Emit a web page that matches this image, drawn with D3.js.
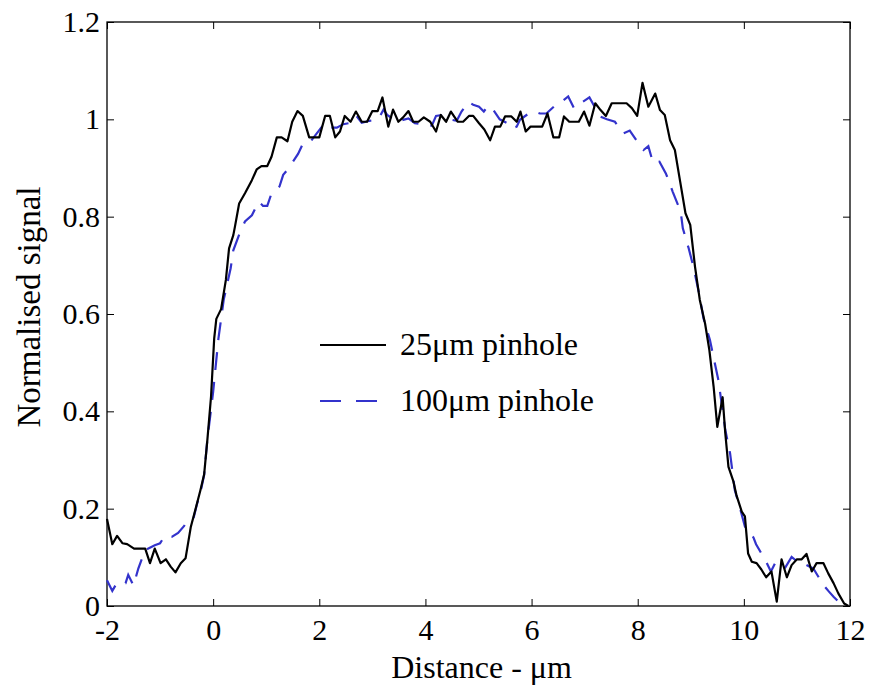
<!DOCTYPE html>
<html>
<head>
<meta charset="utf-8">
<script src="https://cdn.jsdelivr.net/npm/d3@7"></script>
<style>
  body { margin: 0; background: #fff; }
  svg { font-family: "Liberation Serif", "Times New Roman", serif; }
</style>
</head>
<body>
<svg id="svg" width="869" height="687"></svg>
<script>

// 25um pinhole trace
var dist25 = [-2.0, -1.9, -1.81, -1.71, -1.62, -1.49, -1.28, -1.19, -1.10, -0.99, -0.89, -0.80, -0.71, -0.61, -0.52, -0.42, -0.33, -0.24, -0.17, -0.11,
  -0.04, 0.02, 0.06, 0.15, 0.24, 0.30, 0.38, 0.41, 0.49, 0.60, 0.73, 0.82, 0.91, 1.02, 1.10, 1.20, 1.29, 1.40, 1.49, 1.59,
  1.69, 1.81, 2.00, 2.11, 2.20, 2.30, 2.39, 2.48, 2.59, 2.69, 2.80, 2.90, 3.00, 3.10, 3.19, 3.30, 3.39, 3.49, 3.58, 3.68,
  3.77, 3.87, 3.97, 4.09, 4.20, 4.29, 4.39, 4.48, 4.61, 4.71, 4.82, 4.90, 5.01, 5.11, 5.22, 5.31, 5.41, 5.50, 5.62, 5.72,
  5.79, 5.89, 5.98, 6.20, 6.30, 6.41, 6.52, 6.61, 6.71, 6.89, 6.99, 7.09, 7.20, 7.30, 7.40, 7.51, 7.79, 7.89, 7.99, 8.09,
  8.20, 8.33, 8.42, 8.51, 8.61, 8.70, 8.80, 8.90, 8.99, 9.08, 9.17, 9.27, 9.35, 9.43, 9.50, 9.60, 9.65, 9.71, 9.80, 9.86,
  9.96, 10.02, 10.08, 10.15, 10.24, 10.33, 10.42, 10.52, 10.62, 10.71, 10.81, 10.90, 11.0, 11.09, 11.18, 11.28, 11.37, 11.50, 11.59, 11.69,
  11.78, 11.89, 11.97];
var signal25 = [0.179, 0.127, 0.144, 0.129, 0.127, 0.118, 0.118, 0.088, 0.118, 0.088, 0.096, 0.081, 0.069, 0.088, 0.098, 0.163, 0.200, 0.238, 0.270, 0.340,
  0.43, 0.55, 0.59, 0.61, 0.67, 0.735, 0.762, 0.779, 0.827, 0.848, 0.875, 0.897, 0.904, 0.904, 0.923, 0.963, 0.963, 0.955, 0.995, 1.017,
  1.007, 0.963, 0.963, 1.007, 1.007, 0.963, 0.975, 1.007, 0.995, 1.016, 0.995, 0.995, 1.017, 1.017, 1.045, 0.985, 1.020, 0.995, 1.004, 1.017,
  0.995, 0.995, 1.004, 0.995, 0.975, 1.009, 0.995, 1.016, 0.995, 0.995, 1.007, 1.007, 0.992, 0.979, 0.957, 0.985, 0.985, 1.006, 1.006, 0.995,
  1.016, 0.975, 0.985, 0.985, 1.012, 0.963, 0.963, 1.006, 0.995, 0.995, 1.016, 0.987, 1.033, 1.019, 1.007, 1.033, 1.033, 1.023, 1.007, 1.075,
  1.026, 1.053, 1.019, 1.009, 0.957, 0.937, 0.872, 0.807, 0.783, 0.697, 0.629, 0.580, 0.526, 0.451, 0.368, 0.429, 0.355, 0.286, 0.257, 0.228,
  0.194, 0.184, 0.108, 0.091, 0.088, 0.075, 0.059, 0.071, 0.009, 0.096, 0.059, 0.084, 0.096, 0.096, 0.107, 0.071, 0.088, 0.088, 0.067, 0.047,
  0.026, 0.005, 0.0];

// 100um pinhole trace
var dist100 = [-2.0, -1.9, -1.81, -1.65, -1.60, -1.50, -1.41, -1.28, -1.10, -1.00, -0.91, -0.78, -0.66, -0.55, -0.47, -0.37, -0.31, -0.23, -0.17, -0.11,
  0.0, 0.10, 0.20, 0.33, 0.38, 0.51, 0.60, 0.73, 0.86, 0.94, 1.02, 1.10, 1.25, 1.32, 1.42, 1.60, 1.70, 1.84, 2.05, 2.11,
  2.20, 2.33, 2.45, 2.61, 2.70, 2.80, 2.95, 3.11, 3.21, 3.28, 3.40, 3.49, 3.58, 3.68, 3.80, 3.95, 4.12, 4.20, 4.31, 4.45,
  4.59, 4.68, 4.81, 4.90, 5.01, 5.10, 5.18, 5.28, 5.40, 5.53, 5.62, 5.72, 5.78, 5.92, 6.06, 6.16, 6.28, 6.42, 6.55, 6.69,
  6.80, 6.95, 7.09, 7.29, 7.42, 7.57, 7.73, 7.85, 7.98, 8.11, 8.20, 8.29, 8.41, 8.53, 8.66, 8.81, 8.85, 8.96, 9.05, 9.16,
  9.24, 9.36, 9.52, 9.65, 9.74, 9.83, 9.93, 10.02, 10.12, 10.18, 10.23, 10.32, 10.42, 10.51, 10.59, 10.68, 10.78, 10.90, 11.03, 11.17,
  11.31, 11.50, 11.60, 11.69, 11.78, 11.91];
var signal100 = [0.053, 0.031, 0.048, 0.047, 0.064, 0.042, 0.077, 0.115, 0.125, 0.129, 0.144, 0.142, 0.150, 0.164, 0.177, 0.180, 0.207, 0.238, 0.269, 0.341,
  0.44, 0.55, 0.63, 0.694, 0.731, 0.769, 0.790, 0.803, 0.831, 0.822, 0.822, 0.848, 0.862, 0.886, 0.899, 0.929, 0.952, 0.955, 0.985, 0.992,
  0.983, 0.983, 0.990, 0.993, 1.007, 0.993, 0.997, 1.000, 1.020, 1.009, 1.000, 0.995, 0.999, 1.002, 0.992, 0.990, 0.987, 1.007, 1.009, 1.000,
  0.997, 1.016, 1.036, 1.030, 1.026, 1.016, 1.028, 1.019, 1.000, 0.993, 0.981, 0.985, 0.999, 1.010, 1.016, 1.012, 1.012, 1.026, 1.035, 1.047,
  1.023, 1.035, 1.045, 1.006, 1.000, 0.995, 0.971, 0.977, 0.956, 0.937, 0.945, 0.910, 0.913, 0.889, 0.851, 0.810, 0.776, 0.735, 0.697, 0.640,
  0.591, 0.547, 0.464, 0.362, 0.314, 0.238, 0.200, 0.163, 0.146, 0.141, 0.127, 0.110, 0.091, 0.071, 0.088, 0.080, 0.079, 0.101, 0.089, 0.085,
  0.077, 0.043, 0.030, 0.019, 0.009, 0.0];

var xTicks = [-2, 0, 2, 4, 6, 8, 10, 12];
var xTickLabels = ["-2", "0", "2", "4", "6", "8", "10", "12"];
var yTicks = [0, 0.2, 0.4, 0.6, 0.8, 1, 1.2];
var yTickLabels = ["0", "0.2", "0.4", "0.6", "0.8", "1", "1.2"];
var seriesNames = ["25\u03bcm pinhole", "100\u03bcm pinhole"];

function Chart(){

  var svg = d3.select("#svg");
  var padding = {top: 22, right: 19, bottom: 81, left: 107};
  var ChartArea = {
    "width": parseInt(svg.attr("width")) - padding.left - padding.right,
    "height": parseInt(svg.attr("height")) - padding.top - padding.bottom
  };

  var xScale = d3.scaleLinear().domain([-2, 12]).range([0, ChartArea.width]);
  var yScale = d3.scaleLinear().domain([0, 1.2]).range([ChartArea.height, 0]);

  var g = svg.append("g")
    .attr("transform", "translate(" + padding.left + "," + padding.top + ")");

  // axes, ticks pointing inwards on all four sides
  var fmtX = function(d){ return xTickLabels[xTicks.indexOf(d)]; };
  var fmtY = function(d){ return yTickLabels[yTicks.indexOf(d)]; };

  g.append("g")
    .attr("transform", "translate(0," + ChartArea.height + ")")
    .call(d3.axisBottom(xScale).tickValues(xTicks).tickFormat(fmtX).tickSizeInner(-7).tickSizeOuter(0).tickPadding(13));
  g.append("g")
    .call(d3.axisTop(xScale).tickValues(xTicks).tickFormat("").tickSizeInner(-7).tickSizeOuter(0));
  g.append("g")
    .call(d3.axisLeft(yScale).tickValues(yTicks).tickFormat(fmtY).tickSizeInner(-7).tickSizeOuter(0).tickPadding(7));
  g.append("g")
    .attr("transform", "translate(" + ChartArea.width + ",0)")
    .call(d3.axisRight(yScale).tickValues(yTicks).tickFormat("").tickSizeInner(-7).tickSizeOuter(0));

  g.selectAll(".domain").remove();
  g.selectAll(".tick line").attr("stroke", "#000").attr("stroke-width", 1);
  g.selectAll(".tick text")
    .attr("fill", "#000")
    .style("font-family", "Liberation Serif")
    .style("font-size", "30px");

  g.append("rect")
    .attr("width", ChartArea.width)
    .attr("height", ChartArea.height)
    .attr("fill", "none")
    .attr("stroke", "#000")
    .attr("stroke-width", 1.3);

  var line = d3.line()
    .x(function(d){ return xScale(d[0]); })
    .y(function(d){ return yScale(d[1]); });

  var pts100 = dist100.map(function(d, i){ return [d, signal100[i]]; });
  var pts25 = dist25.map(function(d, i){ return [d, signal25[i]]; });

  g.append("path")
    .datum(pts100)
    .attr("d", line)
    .attr("fill", "none")
    .attr("stroke", "#3333cc")
    .attr("stroke-width", 2.2)
    .attr("stroke-dasharray", "18,12");

  g.append("path")
    .datum(pts25)
    .attr("d", line)
    .attr("fill", "none")
    .attr("stroke", "#000")
    .attr("stroke-width", 2.2)
    .attr("stroke-linejoin", "round");

  // legend
  var leg = svg.append("g");
  var legColors = ["#000", "#3333cc"];
  var legDash = [null, "21,15"];
  seriesNames.forEach(function(name, i){
    var y = 345 + i * 56;
    leg.append("line")
      .attr("x1", 320).attr("x2", 386)
      .attr("y1", y).attr("y2", y)
      .attr("stroke", legColors[i])
      .attr("stroke-width", 2.2)
      .attr("stroke-dasharray", legDash[i]);
    leg.append("text")
      .attr("x", 400).attr("y", y + 10)
      .style("font-size", "32px")
      .text(name);
  });

  // axis titles
  svg.append("text")
    .attr("x", padding.left + ChartArea.width / 2 + 3)
    .attr("y", 678)
    .attr("text-anchor", "middle")
    .style("font-size", "32px")
    .text("Distance - \u03bcm");

  svg.append("text")
    .attr("transform", "translate(40,307) rotate(-90)")
    .attr("text-anchor", "middle")
    .style("font-size", "33px")
    .text("Normalised signal");
}

Chart();
</script>
</body>
</html>
